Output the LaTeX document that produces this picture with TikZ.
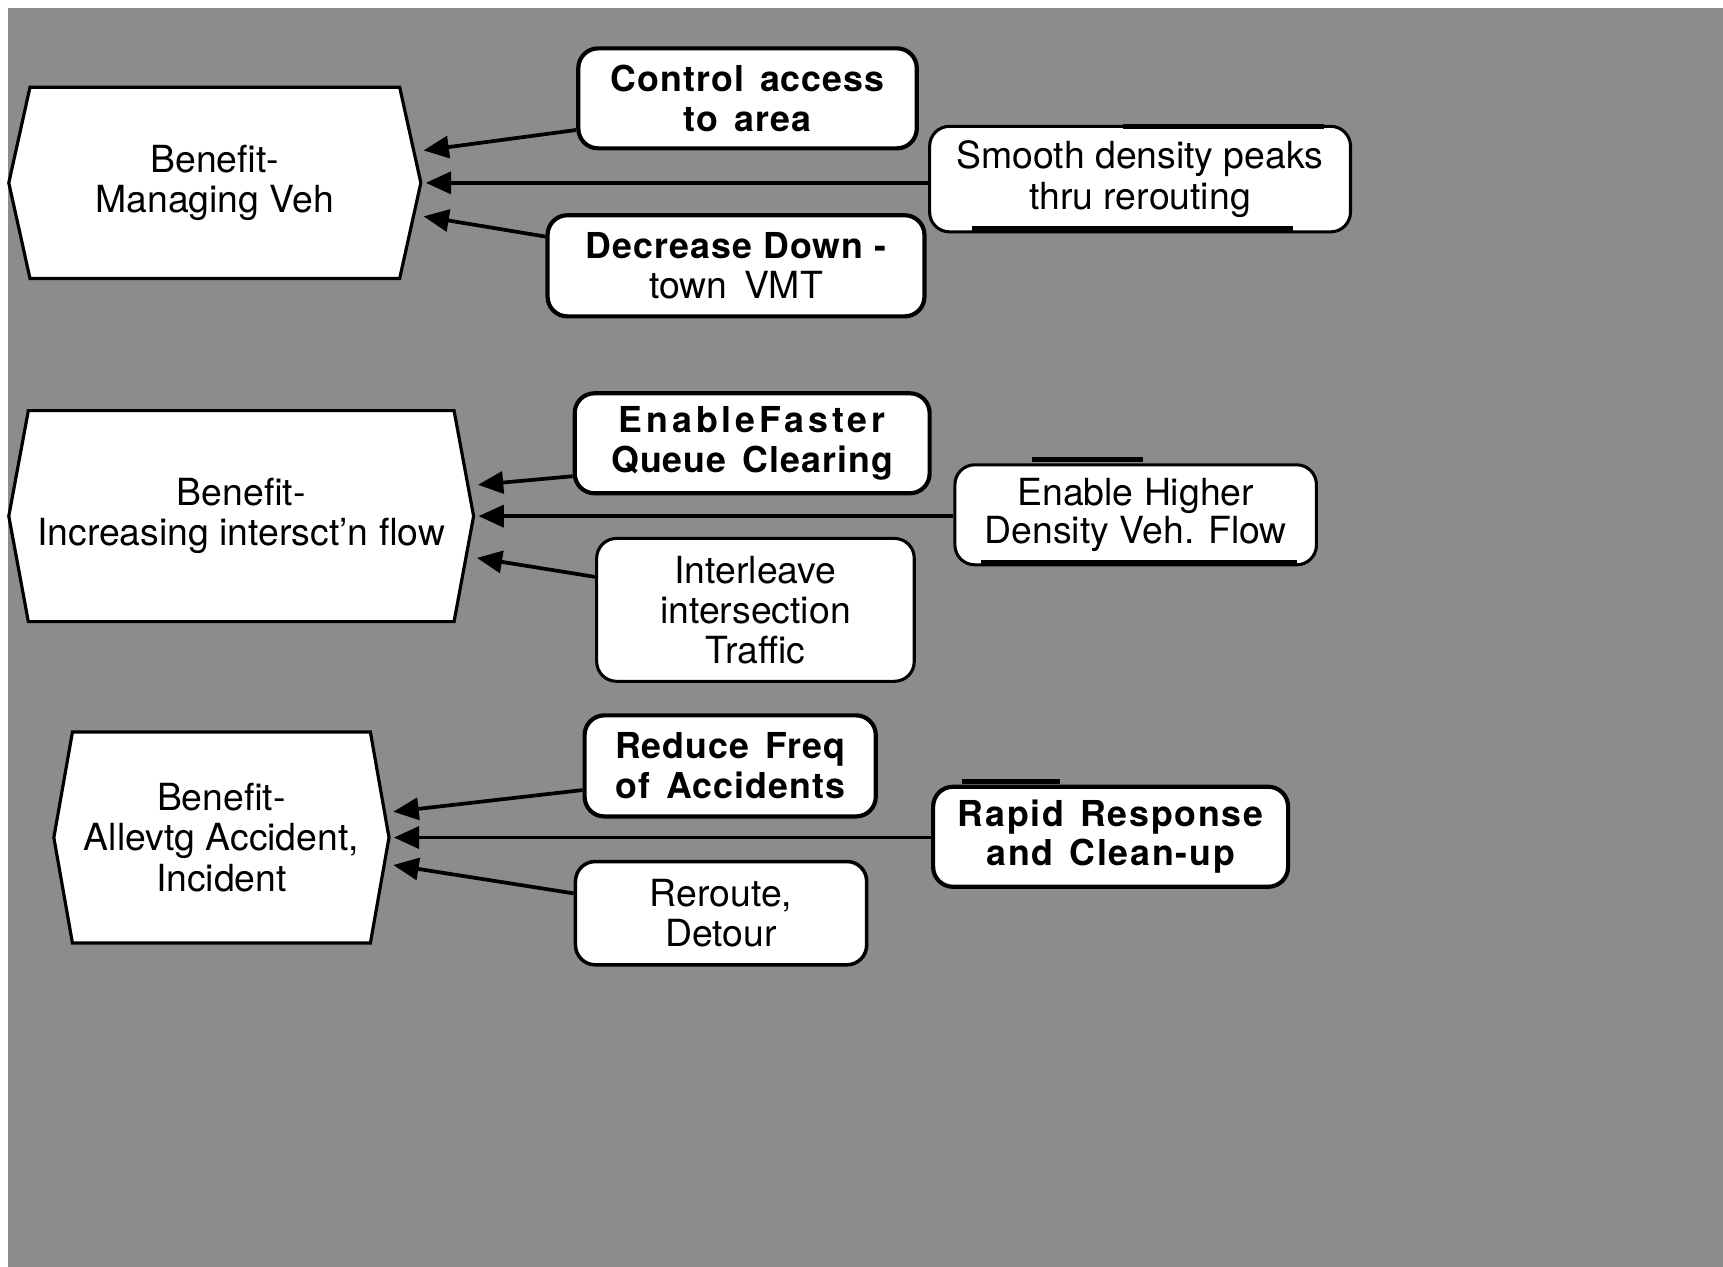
\documentclass[tikz,border=0pt]{standalone}
\usepackage{fontspec}
\setmainfont{TeX Gyre Heros}
\newfontfamily\boxbold{TeX Gyre Heros}[LetterSpace=3]
\usetikzlibrary{arrows.meta,shapes.symbols}
\definecolor{halftone}{gray}{0.55}
\newcommand\regfont{\fontsize{34}{36.5}\selectfont}
\newcommand\boldfont{\boxbold\bfseries\fontsize{32.5}{36}\selectfont}
\newcommand\wsp{\hspace{0.45em}}
\begin{document}
\begin{tikzpicture}[x=1pt,y=-1pt,
  benefit/.style={shape=signal, signal to=west and east, draw, fill=white,
    line width=2.9pt, inner sep=0pt, align=center, font=\regfont},
  actbox/.style={shape=rectangle, rounded corners=18pt, draw, fill=white,
    inner sep=0pt, align=center},
  heavy/.style={actbox, line width=3.8pt, font=\boldfont},
  light/.style={actbox, line width=2.8pt, font=\regfont},
  arr/.style={line width=3.4pt, -{Triangle[length=23pt,width=20pt]}},
  bar/.style={line width=4.5pt, line cap=butt}]

% page and halftone ground
\useasboundingbox (0,0) rectangle (1568,1153);
\fill[halftone] (7.5,7.5) rectangle (1568,1153);

% benefit hexagons
\node[benefit, minimum width=375pt, minimum height=174pt, signal pointer angle=155]
  (h1) at (195.5,166.4) {Benefit-\\Managing Veh};
\node[benefit, minimum width=423pt, minimum height=192pt, signal pointer angle=159]
  (h2) at (219.5,469.7) {Benefit-\\Increasing intersct'n flow};
\node[benefit, minimum width=305pt, minimum height=192pt, signal pointer angle=160]
  (h3) at (201.5,762.2) {Benefit-\\Allevtg Accident,\\Incident};

% measures, first group
\node[heavy, minimum width=308pt, minimum height=91pt] (b1) at (680.3,89.5)
  {Control\wsp access\\to\wsp area};
\node[light, minimum width=383pt, minimum height=96pt] (b2) at (1037.5,163)
  {Smooth density peaks\\thru rerouting};
\node[heavy, minimum width=343pt, minimum height=92pt] (b3) at (669.8,241.9)
  {Decrease Down -\\{\normalfont\regfont town\wsp VMT}};

% measures, second group
\node[heavy, minimum width=323pt, minimum height=91pt] (b4) at (684.5,403.4)
  {{\addfontfeatures{LetterSpace=11}EnableFaster}\\Queue\wsp Clearing};
\node[light, minimum width=329pt, minimum height=91pt, font=\fontsize{34}{35}\selectfont]
  (b5) at (1033.5,468.5) {Enable Higher\\Density Veh. Flow};
\node[light, minimum width=289pt, minimum height=130pt] (b6) at (687.5,555)
  {Interleave\\intersection\\Traffic};

% measures, third group
\node[heavy, minimum width=265pt, minimum height=92pt] (b7) at (664.5,697)
  {Reduce\wsp Freq\\of\wsp Accidents};
\node[heavy, minimum width=323pt, minimum height=91pt,
  font=\boxbold\bfseries\addfontfeatures{LetterSpace=5}\fontsize{32.5}{36}\selectfont]
  (b8) at (1010.7,761.5) {Rapid\wsp Response\\and\wsp Clean-up};
\node[heavy, line width=3.2pt, font=\regfont, minimum width=265pt, minimum height=94pt]
  (b9) at (656.2,831) {Reroute,\\Detour};

% heavier strokes along some box edges
\draw[bar] (1022,115.5) -- (1205,115.5);
\draw[bar, line width=5pt] (885,208) -- (1177,208);
\draw[bar, line width=4pt] (939,418) -- (1040,418);
\draw[bar, line width=5pt] (893,512) -- (1180,512);
\draw[bar, line width=5pt] (875,711) -- (965,711);

% connectors into the benefits
\draw[arr] ([yshift=-28.8pt]b1.west) -- ([xshift=1pt,yshift=29.5pt]h1.east);
\draw[arr] (b2.west |- h1.east) -- ([xshift=3pt]h1.east);
\draw[arr] ([yshift=26.6pt]b3.west) -- ([xshift=1pt,yshift=-30.5pt]h1.east);

\draw[arr] ([yshift=-30pt]b4.west) -- ([xshift=2.5pt,yshift=28.5pt]h2.east);
\draw[arr] (b5.west |- h2.east) -- ([xshift=3pt]h2.east);
\draw[arr] ([yshift=30pt]b6.west) -- ([xshift=1.5pt,yshift=-38pt]h2.east);

\draw[arr] ([yshift=-22pt]b7.west) -- ([xshift=2.5pt,yshift=23.5pt]h3.east);
\draw[arr] (b8.west |- h3.east) -- ([xshift=3pt]h3.east);
\draw[arr] ([yshift=18pt]b9.west) -- ([xshift=2.5pt,yshift=-25pt]h3.east);
\end{tikzpicture}
\end{document}
